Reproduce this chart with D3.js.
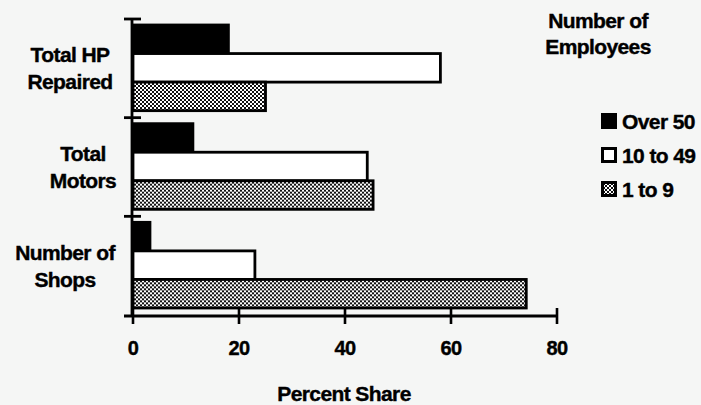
<!DOCTYPE html>
<html><head><meta charset="utf-8">
<script src="https://cdn.jsdelivr.net/npm/d3@7"></script>
<style>
html,body{margin:0;padding:0;background:#f5f6f5;}
text{font-family:"Liberation Sans",Arial,sans-serif;font-weight:bold;fill:#000;stroke:#000;stroke-width:0.4px;}
</style></head>
<body>
<svg id="c" width="701" height="405"></svg>
<script>
const categories = ["Total HP Repaired", "Total Motors", "Number of Shops"];
const categoryLines = [["Total HP", "Repaired"], ["Total", "Motors"], ["Number of", "Shops"]];
const seriesNames = ["Over 50", "10 to 49", "1 to 9"];
const over50 = [18, 11.3, 3.2];
const from10to49 = [58, 44.2, 23];
const from1to9 = [25, 45.3, 74.2];
const xTicks = [0, 20, 40, 60, 80];
const legendTitle = ["Number of", "Employees"];
const axisTitle = "Percent Share";

const seriesValues = [over50, from10to49, from1to9];
const svg = d3.select("#c");
const defs = svg.append("defs");
const pat = defs.append("pattern").attr("id", "dots").attr("patternUnits", "userSpaceOnUse")
  .attr("width", 4).attr("height", 4);
pat.append("rect").attr("width", 4).attr("height", 4).attr("fill", "#fff");
pat.append("rect").attr("x", 0).attr("y", 0).attr("width", 2).attr("height", 2).attr("fill", "#111");
pat.append("rect").attr("x", 2).attr("y", 2).attr("width", 2).attr("height", 2).attr("fill", "#111");
const fills = ["#000", "#fff", "url(#dots)"];

const x = d3.scaleLinear().domain([0, 80]).range([133, 557]);
const y = d3.scaleBand().domain(categories).range([19, 315]).padding(0);
const ySub = d3.scaleBand().domain(seriesNames).range([6, y.bandwidth() - 7]).padding(0);

// bars
const groups = svg.append("g").selectAll("g").data(categories).join("g")
  .attr("transform", d => `translate(0,${y(d)})`);
groups.each(function(cat, ci) {
  d3.select(this).selectAll("rect").data(seriesNames).join("rect")
    .attr("x", x(0))
    .attr("y", s => ySub(s))
    .attr("width", (s, si) => x(seriesValues[si][ci]) - x(0))
    .attr("height", ySub.bandwidth())
    .attr("fill", (s, si) => fills[si])
    .attr("stroke", "#000").attr("stroke-width", 2.8);
});

// y axis
svg.append("line").attr("x1", 132).attr("x2", 132).attr("y1", 19).attr("y2", 316)
  .attr("stroke", "#000").attr("stroke-width", 2.8);
const yEdges = categories.map(c => y(c));
svg.append("g").selectAll("line").data(yEdges).join("line")
  .attr("x1", 124).attr("x2", 141).attr("y1", d => d).attr("y2", d => d)
  .attr("stroke", "#000").attr("stroke-width", 2.8);

// x axis
svg.append("line").attr("x1", 124).attr("x2", x(80)).attr("y1", 316).attr("y2", 316)
  .attr("stroke", "#000").attr("stroke-width", 2.8);
svg.append("g").selectAll("line").data(xTicks).join("line")
  .attr("x1", d => x(d)).attr("x2", d => x(d)).attr("y1", 308).attr("y2", 324)
  .attr("stroke", "#000").attr("stroke-width", 2.6);
svg.append("g").selectAll("text").data(xTicks).join("text")
  .attr("x", d => x(d)).attr("y", 355).attr("text-anchor", "middle")
  .style("font-size", "20px").style("letter-spacing", "-0.5px").text(d => d);
svg.append("text").attr("x", 344).attr("y", 401).attr("text-anchor", "middle")
  .style("font-size", "21px").style("letter-spacing", "-0.6px").text(axisTitle);

// category labels
const labelX = [70, 83, 65];
svg.append("g").selectAll("text").data(categories).join("text")
  .attr("text-anchor", "middle")
  .style("font-size", "21px").style("letter-spacing", "-0.6px")
  .each(function(c, i) {
    const t = d3.select(this);
    const cy = y(c) + y.bandwidth() / 2;
    categoryLines[i].forEach((ln, k) => {
      t.append("tspan").attr("x", labelX[i]).attr("y", cy - 6 + k * 27).text(ln);
    });
  });

// legend
svg.append("g").selectAll("text").data(legendTitle).join("text")
  .attr("x", 598).attr("y", (d, i) => 28 + i * 26).attr("text-anchor", "middle")
  .style("font-size", "21px").style("letter-spacing", "-0.6px").text(d => d);
const leg = svg.append("g").selectAll("g").data(seriesNames).join("g")
  .attr("transform", (d, i) => `translate(601,${113 + i * 34})`);
leg.append("rect").attr("x", (d, i) => i === 0 ? 0 : 1.5).attr("y", (d, i) => i === 0 ? 0 : 1.5)
  .attr("width", (d, i) => i === 0 ? 16 : 13).attr("height", (d, i) => i === 0 ? 16 : 13)
  .attr("fill", (d, i) => fills[i]).attr("stroke", "#000")
  .attr("stroke-width", (d, i) => i === 0 ? 0 : 3);
leg.append("text").attr("x", 21).attr("y", 16)
  .style("font-size", "21px").style("letter-spacing", "-0.6px").text(d => d);
</script>
</body></html>
